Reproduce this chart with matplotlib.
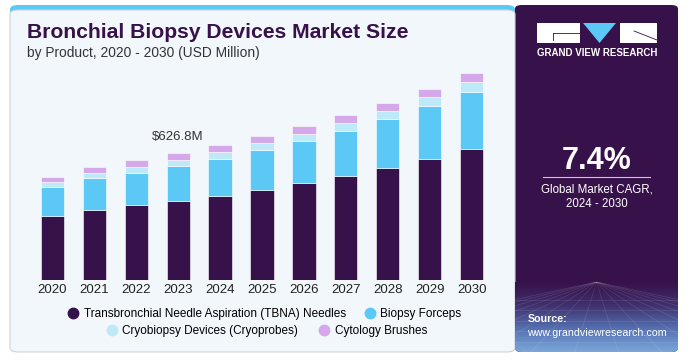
import numpy as np
import matplotlib.pyplot as plt
from matplotlib.patches import FancyBboxPatch, Rectangle, Polygon
from matplotlib.lines import Line2D
from matplotlib.colors import LinearSegmentedColormap

plt.rcParams['font.family'] = ['Liberation Sans', 'DejaVu Sans']

# data (USD million)
years = ['2020', '2021', '2022', '2023', '2024', '2025', '2026', '2027', '2028', '2029', '2030']
tbna = [317, 346, 370, 389, 416, 445, 478, 513, 553, 599, 648]
forceps = [142, 158, 162, 175, 185, 198, 211, 226, 245, 261, 284]
cryo = [26, 26, 30, 30, 33, 35, 36, 41, 41, 46, 48]
brushes = [26, 32, 33, 33, 35, 35, 37, 38, 40, 41, 43]
series_names = ['Transbronchial Needle Aspiration (TBNA) Needles', 'Biopsy Forceps',
                'Cryobiopsy Devices (Cryoprobes)', 'Cytology Brushes']
colors = ['#37114a', '#5bc8f5', '#bde9f9', '#d5a8ea']
callout_year = '2023'
callout_text = '$626.8M'
cagr = '7.4%'

W, H = 699, 364
fig = plt.figure(figsize=(W / 100, H / 100), dpi=100)
fig.patch.set_facecolor('white')


def fx(x):
    return x / W


def fy(y):
    return 1 - y / H


# left light panel with blue top stripe
fig.patches.append(FancyBboxPatch((fx(10), fy(352)), fx(515 - 10), (352 - 5) / H,
                                  boxstyle='round,pad=0,rounding_size=0.012',
                                  transform=fig.transFigure, facecolor='#5bc8f5',
                                  edgecolor='none', zorder=-5))
fig.patches.append(FancyBboxPatch((fx(10), fy(352)), fx(515 - 10), (352 - 10) / H,
                                  boxstyle='round,pad=0,rounding_size=0.012',
                                  transform=fig.transFigure, facecolor='#f2f7fb',
                                  edgecolor='#d0d4d8', linewidth=0.8, zorder=-4))

# right dark panel
dark = FancyBboxPatch((fx(515), fy(352)), fx(678 - 515), (352 - 5) / H,
                      boxstyle='round,pad=0,rounding_size=0.01',
                      transform=fig.transFigure, facecolor='#37114a',
                      edgecolor='none', zorder=-5)
fig.patches.append(dark)
grad_ax = fig.add_axes([fx(515), fy(352), fx(678 - 515), (352 - 282) / H], zorder=1)
grad = np.linspace(0, 1, 100)[:, None]
cmap = LinearSegmentedColormap.from_list('g', ['#37114a', '#40306e', '#5570b0', '#7aa6da'])
im = grad_ax.imshow(grad, aspect='auto', cmap=cmap, extent=[0, 1, 1, 0])
im.set_clip_path(dark)
for k in np.linspace(-1.5, 2.5, 16):
    ln, = grad_ax.plot([0.5, k], [0.0, 1.0], color='white', alpha=0.12, lw=0.5)
    ln.set_clip_path(dark)
for yy in [0.25, 0.4, 0.55, 0.7, 0.85]:
    ln, = grad_ax.plot([0, 1], [yy, yy], color='white', alpha=0.12, lw=0.5)
    ln.set_clip_path(dark)
grad_ax.set_xlim(0, 1)
grad_ax.set_ylim(1, 0)
grad_ax.axis('off')

# titles
fig.text(fx(27), fy(33), 'Bronchial Biopsy Devices Market Size', fontsize=15.2,
         fontweight='bold', color='#37114a', va='center', ha='left')
fig.text(fx(27), fy(53), 'by Product, 2020 - 2030 (USD Million)', fontsize=9.9,
         color='#333333', va='center', ha='left')

# bars
ax = fig.add_axes([fx(27), fy(280), fx(497 - 27), (280 - 70) / H], zorder=2)
x = np.arange(len(years))
bottom = np.zeros(len(years))
for vals, c in zip([tbna, forceps, cryo, brushes], colors):
    ax.bar(x, vals, width=0.55, bottom=bottom, color=c, edgecolor='white', linewidth=0.4)
    bottom += np.array(vals)
ax.set_xlim(-0.6, 10.6)
ax.set_ylim(0, 1040)
ax.set_xticks(x)
ax.set_xticklabels(years, fontsize=9.5, color='#222222')
ax.tick_params(axis='x', length=0, pad=3)
ax.set_yticks([])
for s in ax.spines.values():
    s.set_visible(False)
ax.patch.set_alpha(0)
ci = years.index(callout_year)
ax.annotate(callout_text, (ci, bottom[ci]), xytext=(0, 16), textcoords='offset pixels',
            ha='center', va='center', fontsize=9.5, color='#333333')

# legend, two centered rows
handles = [Line2D([], [], marker='o', ls='', markersize=7.5, color=c) for c in colors]
leg1 = fig.legend(handles[:2], series_names[:2], loc='center', ncol=2,
                  bbox_to_anchor=(fx(264), fy(314)), frameon=False, fontsize=8.5,
                  handletextpad=0.3, columnspacing=1.4, handlelength=1.2, borderpad=0)
leg2 = fig.legend(handles[2:], series_names[2:], loc='center', ncol=2,
                  bbox_to_anchor=(fx(266), fy(331)), frameon=False, fontsize=8.5,
                  handletextpad=0.3, columnspacing=1.6, handlelength=1.2, borderpad=0)

# logo
fig.patches.append(Rectangle((fx(537), fy(43)), fx(43), 20 / H, transform=fig.transFigure,
                             facecolor='white', edgecolor='none'))
fig.patches.append(Rectangle((fx(620), fy(43)), fx(37), 20 / H, transform=fig.transFigure,
                             facecolor='white', edgecolor='none'))
fig.patches.append(Polygon([(fx(583), fy(23)), (fx(616), fy(23)), (fx(599.5), fy(43))],
                           transform=fig.transFigure, facecolor='#5bc8f5', edgecolor='none'))
fig.lines.append(Line2D([fx(553), fx(580)], [fy(33), fy(33)], transform=fig.transFigure,
                        color='#37114a', lw=0.6))
fig.lines.append(Line2D([fx(553), fx(553)], [fy(33), fy(40)], transform=fig.transFigure,
                        color='#37114a', lw=0.6))
fig.lines.append(Line2D([fx(634), fx(657)], [fy(31), fy(40)], transform=fig.transFigure,
                        color='#37114a', lw=0.6))
fig.text(fx(597), fy(53), 'GRAND VIEW RESEARCH', fontsize=7, fontweight='bold',
         color='white', ha='center', va='center')

# CAGR block
fig.text(fx(597), fy(161), cagr, fontsize=22, fontweight='bold', color='white',
         ha='center', va='center')
fig.lines.append(Line2D([fx(543), fx(650)], [fy(177), fy(177)], transform=fig.transFigure,
                        color='#cfc4d8', lw=0.8))
fig.text(fx(597), fy(190), 'Global Market CAGR,', fontsize=8.3, color='white',
         ha='center', va='center')
fig.text(fx(597), fy(204), '2024 - 2030', fontsize=8.3, color='white',
         ha='center', va='center')

# source
fig.text(fx(528), fy(319), 'Source:', fontsize=7.7, fontweight='bold', color='white',
         ha='left', va='center', zorder=3)
fig.text(fx(527), fy(333), 'www.grandviewresearch.com', fontsize=7.7, color='white',
         ha='left', va='center', zorder=3)

fig.savefig('out.png', dpi=100, facecolor='white')
